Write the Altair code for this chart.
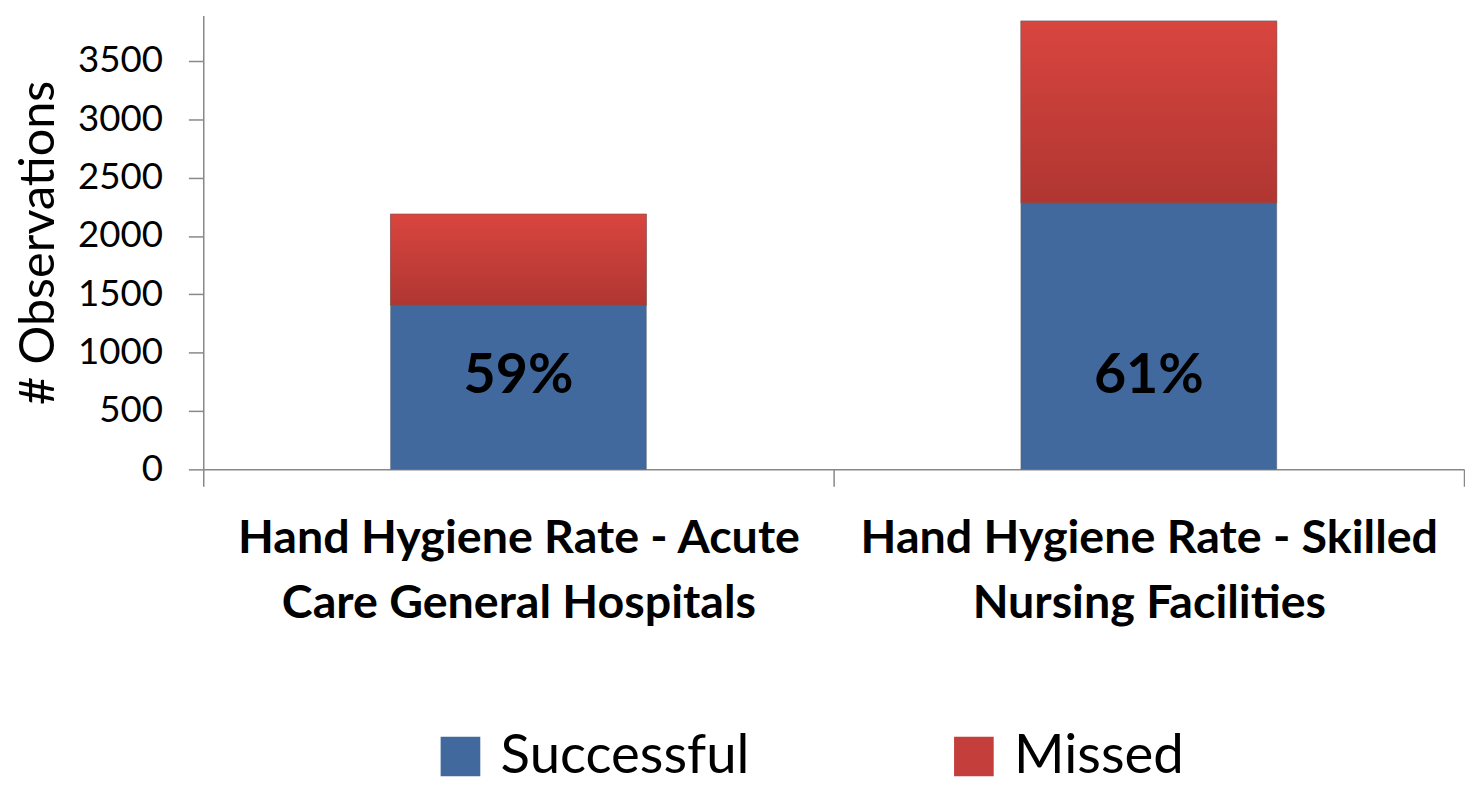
import altair as alt
import pandas as pd

categories = [
    "Hand Hygiene Rate - Acute|Care General Hospitals",
    "Hand Hygiene Rate - Skilled|Nursing Facilities",
]
successful = [1409, 2284]
missed = [779, 1559]
rate_labels = ["59%", "61%"]
series = ["Successful", "Missed"]
colors = ["#41699E", "#C43F3B"]
red_top = "#D9453F"
red_bottom = "#B03632"
y_ticks = [0, 500, 1000, 1500, 2000, 2500, 3000, 3500]
y_max = 3890
label_level = 800

rows = []
for c, s, m in zip(categories, successful, missed):
    rows.append({"cat": c, "series": "Successful", "value": s, "ord": 0})
    rows.append({"cat": c, "series": "Missed", "value": m, "ord": 1})
df = pd.DataFrame(rows)
lab = pd.DataFrame({"cat": categories, "label": rate_labels, "lvl": [label_level] * 2})

FONT = "Lato"

x_enc = alt.X(
    "cat:N",
    sort=categories,
    title=None,
    scale=alt.Scale(paddingInner=0, paddingOuter=0),
    axis=alt.Axis(
        labelExpr="split(datum.label, '|')",
        labelAngle=0,
        labelFontSize=47,
        labelFontWeight="bold",
        labelFont=FONT,
        labelColor="black",
        labelLineHeight=65,
        labelPadding=30,
        labelLimit=900,
        tickBand="extent",
        tickSize=17,
        tickColor="#888888",
        domainColor="#888888",
        domainWidth=1.5,
        tickWidth=1.5,
    ),
)

y_scale = alt.Scale(domain=[0, y_max], nice=False)

bars = alt.Chart(df).mark_bar(
    width=alt.RelativeBandSize(0.406),
    stroke="#5a5a5a", strokeWidth=0.6, strokeOpacity=0.6,
).encode(
    x=x_enc,
    y=alt.Y(
        "value:Q",
        stack="zero",
        title="# Observations",
        scale=y_scale,
        axis=alt.Axis(
            values=y_ticks,
            format="d",
            grid=False,
            labelFontSize=37,
            labelFont=FONT,
            labelColor="black",
            labelPadding=26,
            tickSize=15,
            tickColor="#888888",
            domainColor="#888888",
            domainWidth=1.5,
            tickWidth=1.5,
            titleFont=FONT,
            titleFontSize=49,
            titleFontWeight="normal",
            titleColor="black",
            titlePadding=14,
        ),
    ),
    color=alt.Color(
        "series:N",
        scale=alt.Scale(domain=series, range=colors),
        sort=series,
        legend=alt.Legend(
            title=None,
            orient="none",
            direction="horizontal",
            legendX=232,
            legendY=720,
            symbolType="square",
            symbolSize=1600,
            symbolStrokeWidth=0,
            labelFontSize=55,
            labelFont=FONT,
            labelColor="black",
            labelLimit=600,
            columnPadding=198,
            labelOffset=13,
            padding=0,
        ),
    ),
    order=alt.Order("ord:Q"),
)

red_grad = alt.LinearGradient(
    gradient="linear",
    stops=[alt.GradientStop(color=red_top, offset=0), alt.GradientStop(color=red_bottom, offset=1)],
    x1=0, x2=0, y1=0, y2=1,
)

red_overlay = (
    alt.Chart(df)
    .transform_stack(stack="value", groupby=["cat"], as_=["v0", "v1"], sort=[alt.SortField("ord")])
    .transform_filter(alt.datum.series == "Missed")
    .mark_bar(
        width=alt.RelativeBandSize(0.406),
        color=red_grad,
        stroke="#5a5a5a", strokeWidth=0.6, strokeOpacity=0.6,
    )
    .encode(
        x=alt.X("cat:N", sort=categories),
        y=alt.Y("v0:Q", scale=y_scale),
        y2="v1:Q",
    )
)

text = alt.Chart(lab).mark_text(
    fontSize=56, fontWeight="bold", font=FONT, color="black"
).encode(
    x=alt.X("cat:N", sort=categories),
    y=alt.Y("lvl:Q"),
    text="label:N",
)

chart = (
    alt.layer(bars, red_overlay, text)
    .properties(
        width=1272,
        height=458,
        padding={"top": 4, "left": 7, "right": 0, "bottom": 0},
    )
    .configure_view(stroke=None)
)

chart.save("out.html", embed_options={"renderer": "svg", "actions": False})
